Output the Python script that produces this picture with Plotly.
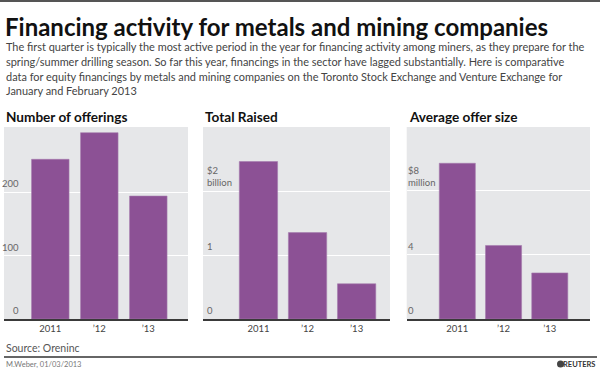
import plotly.graph_objects as go

# ---- data ----
years = ["2011", "’12", "’13"]
offerings = [252, 294, 194]
total_raised_bn = [2.46, 1.35, 0.55]
avg_offer_mn = [9.7, 4.58, 2.87]

off_tickvals = [0, 100, 200]
off_ticktext = ["0", "100", "200"]
raised_tickvals = [0, 1, 2]
raised_ticktext = ["0", "1", "$2<br>billion"]
avg_tickvals = [0, 4, 8]
avg_ticktext = ["0", "4", "$8<br>million"]

title = "Financing activity for metals and mining companies"
subtitle_lines = [
    "The first quarter is typically the most active period in the year for financing activity among miners, as they prepare for the",
    "spring/summer drilling season. So far this year, financings in the sector have lagged substantially. Here is comparative",
    "data for equity financings by metals and mining companies on the Toronto Stock Exchange and Venture Exchange for",
    "January and February 2013",
]
panel_titles = ["Number of offerings", "Total Raised", "Average offer size"]
source = "Source: Oreninc"
credit = "M.Weber, 01/03/2013"

W, H = 600, 371
PURPLE = "#8C5195"
BG = "#E6E7E9"
FONT = "Lato"

def px(x):
    return x / W

def py(y):
    return 1 - y / H

fig = go.Figure()

panels = [
    dict(vals=offerings, tv=off_tickvals, tt=off_ticktext, yr=[0, 303],
         xd=[4, 188], xr=[-0.945, 2.81], w=0.765, lab_x=21, lab_anchor="right"),
    dict(vals=total_raised_bn, tv=raised_tickvals, tt=raised_ticktext, yr=[0, 3.0],
         xd=[203, 390], xr=[-1.13, 2.68], w=0.78, lab_x=205, lab_anchor="left"),
    dict(vals=avg_offer_mn, tv=avg_tickvals, tt=avg_ticktext, yr=[0, 11.96],
         xd=[406.7, 590], xr=[-1.095, 2.87], w=0.78, lab_x=406, lab_anchor="left"),
]

ydom = [py(319), py(127)]
for i, p in enumerate(panels):
    sfx = "" if i == 0 else str(i + 1)
    fig.add_trace(go.Bar(
        x=years, y=p["vals"], width=p["w"],
        marker=dict(color=PURPLE, line=dict(color="#A57BAD", width=0.6)),
        xaxis="x" + sfx, yaxis="y" + sfx, showlegend=False, hoverinfo="skip",
    ))
    fig.update_layout(**{
        "xaxis" + sfx: dict(
            domain=[px(p["xd"][0]), px(p["xd"][1])], anchor="y" + sfx,
            type="category", range=p["xr"], showgrid=False,
            showline=True, linecolor="#3a3a3a", linewidth=1.5,
            ticks="", tickfont=dict(family=FONT, size=9.5, color="#444"),
            fixedrange=True,
        ),
        "yaxis" + sfx: dict(
            domain=ydom, anchor="x" + sfx, range=p["yr"],
            tickvals=p["tv"], showticklabels=False,
            showgrid=True, gridcolor="white", gridwidth=1, zeroline=False,
            showline=False, ticks="",
            fixedrange=True,
        ),
    })
    # y tick labels placed inside the plot, just above each gridline
    for tv, tt in zip(p["tv"], p["tt"]):
        fig.add_annotation(text=tt, xref="paper", yref="y" + sfx,
                           x=px(p["lab_x"]), y=tv, xanchor=p["lab_anchor"], yanchor="bottom",
                           yshift=1, showarrow=False, align="left",
                           font=dict(family=FONT, size=9.5, color="#666"))
    # panel background
    fig.add_shape(type="rect", xref="paper", yref="paper",
                  x0=px(p["xd"][0]), x1=px(p["xd"][1]), y0=ydom[0], y1=ydom[1],
                  fillcolor=BG, line=dict(width=0), layer="below")
    fig.add_annotation(text="<b>" + panel_titles[i] + "</b>", xref="paper", yref="paper",
                       x=px(p["xd"][0]), y=py(117), xanchor="left", yanchor="middle",
                       showarrow=False, font=dict(family=FONT, size=13.6, color="#111"))

# title and subtitle
fig.add_annotation(text="<b>" + title + "</b>", xref="paper", yref="paper",
                   x=px(3), y=py(26), xanchor="left", yanchor="middle", showarrow=False,
                   font=dict(family=FONT, size=24, color="#111"))
for k, line in enumerate(subtitle_lines):
    fig.add_annotation(text=line, xref="paper", yref="paper",
                       x=px(4), y=py(47 + 14.6 * k), xanchor="left", yanchor="middle",
                       showarrow=False, font=dict(family=FONT, size=10.95, color="#444"))

# top rule
fig.add_shape(type="line", xref="paper", yref="paper", x0=0, x1=1, y0=py(1), y1=py(1),
              line=dict(color="#555", width=2))
# bottom rule
fig.add_shape(type="line", xref="paper", yref="paper", x0=px(4), x1=px(597), y0=py(357), y1=py(357),
              line=dict(color="#333", width=1.5))

fig.add_annotation(text=source, xref="paper", yref="paper", x=px(4), y=py(348),
                   xanchor="left", yanchor="middle", showarrow=False,
                   font=dict(family=FONT, size=10.5, color="#555"))
fig.add_annotation(text=credit, xref="paper", yref="paper", x=px(4), y=py(364),
                   xanchor="left", yanchor="middle", showarrow=False,
                   font=dict(family=FONT, size=7.5, color="#777"))
fig.add_annotation(text="<b>REUTERS</b>", xref="paper", yref="paper", x=px(597), y=py(364),
                   xanchor="right", yanchor="middle", showarrow=False,
                   font=dict(family=FONT, size=7.5, color="#333"))
fig.add_shape(type="circle", xref="paper", yref="paper",
              x0=px(557), x1=px(564), y0=py(367.5), y1=py(360.5),
              fillcolor="#444", line=dict(width=0))

fig.update_layout(
    width=W, height=H, margin=dict(l=0, r=0, t=0, b=0), autosize=False,
    paper_bgcolor="white", plot_bgcolor="rgba(0,0,0,0)",
    bargap=0.2,
)

fig.write_html("out.html", config={"displayModeBar": False},
               post_script="document.body.style.margin='0';document.body.style.overflow='hidden';")
